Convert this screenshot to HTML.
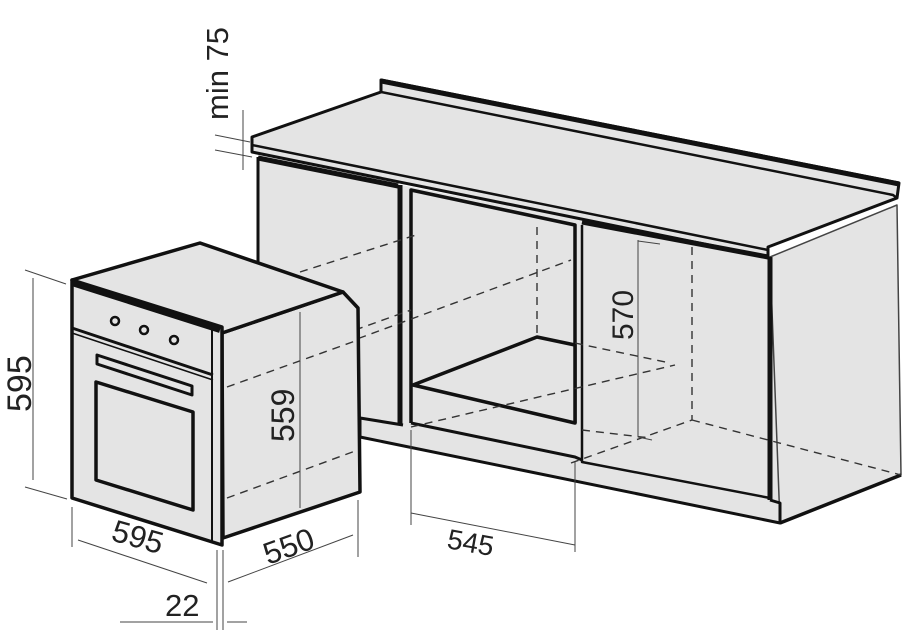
<!DOCTYPE html>
<html><head><meta charset="utf-8"><style>
html,body{margin:0;padding:0;background:#fff}
svg{display:block}
text{font-family:"Liberation Sans",sans-serif;fill:#222;font-weight:300}
</style></head><body>
<svg width="904" height="630" viewBox="0 0 904 630" xmlns="http://www.w3.org/2000/svg">
<g fill="#e4e4e4" stroke="#111" stroke-linejoin="round">
<polygon points="258,157 770,257 780,503 780,523 360,437 360,418 258,400" stroke="none"/>
<polygon points="770,257 897,205 901,475 780,523" stroke-width="1.5" stroke="#444"/>
<line x1="780" y1="523" x2="901" y2="475" stroke-width="3.5"/>
<polygon points="252,137 381,92 381,80 899,183 897,198 768,247 768,257 252,152" stroke-width="3"/>
<polyline points="381,92 893,195 897,198" fill="none" stroke-width="2.5"/>
<line x1="381" y1="81" x2="899" y2="184" stroke-width="5"/>
<line x1="252" y1="145" x2="768" y2="250" stroke-width="2.5"/>
<line x1="258" y1="157" x2="258" y2="300" stroke-width="3"/>
<line x1="258" y1="158" x2="398" y2="186" stroke-width="5"/>
<line x1="400" y1="185" x2="400" y2="425" stroke-width="5"/>
<polyline points="411,423 411,190 575,225 575,423" fill="none" stroke-width="3.5"/>
<polygon points="413,385 537,337 575,345 575,423" stroke-width="3.5"/>
<line x1="582" y1="222" x2="768" y2="257" stroke-width="5"/>
<polyline points="582,225 582,462 770,498" fill="none" stroke-width="2.5"/>
<line x1="770" y1="257" x2="770" y2="500" stroke-width="5"/>
<polyline points="360,418 403,425" fill="none" stroke-width="3"/>
<polyline points="411,423 575,457 582,460" fill="none" stroke-width="3"/>
<polyline points="770,500 780,503 780,523 360,437 360,418" fill="none" stroke-width="3"/>
</g>
<g stroke="#333" stroke-width="1.4" stroke-dasharray="8,6" fill="none">
<line x1="537" y1="227" x2="537" y2="337"/>
<line x1="692" y1="247" x2="692" y2="420"/>
<line x1="300" y1="272" x2="416" y2="235"/>
<line x1="227" y1="387" x2="571" y2="260"/>
<line x1="355" y1="330" x2="411" y2="310"/>
<line x1="227" y1="498" x2="360" y2="445"/>
<line x1="411" y1="427" x2="675" y2="365"/>
<line x1="575" y1="343" x2="670" y2="363"/>
<line x1="582" y1="430" x2="650" y2="438"/>
<line x1="571" y1="463" x2="692" y2="420"/>
<line x1="692" y1="420" x2="901" y2="475"/>
</g>
<g stroke="#444" stroke-width="1" fill="none">
<line x1="638" y1="240" x2="638" y2="437"/>
<line x1="638" y1="241" x2="660" y2="244"/>
<line x1="638" y1="437" x2="652" y2="440"/>
<line x1="411" y1="430" x2="411" y2="525"/>
<line x1="575" y1="462" x2="575" y2="552"/>
<line x1="411" y1="513" x2="575" y2="545"/>
</g>
<text font-size="30" transform="translate(633,340) rotate(-90)">570</text>
<text font-size="28" transform="translate(446,548) rotate(10)">545</text>
<g fill="#e4e4e4" stroke="#111" stroke-linejoin="round">
<polygon points="222,333 343,292 358,308 360,492 223,538" stroke-width="3.5"/>
<polygon points="72,280 200,243 343,292 222,333" stroke-width="3.5"/>
<polygon points="72,280 222,327 222,545 72,498" stroke-width="3.5"/>
<line x1="72" y1="283" x2="220" y2="330" stroke-width="6"/>
<line x1="212" y1="330" x2="212" y2="543" stroke-width="2"/>
<line x1="72" y1="328" x2="213" y2="375" stroke-width="3"/>
<line x1="72" y1="333" x2="213" y2="380" stroke-width="1.5"/>
<polygon points="97,355 192,386 192,395 97,364" stroke-width="3"/>
<polygon points="96,382 193,412 193,510 96,480" stroke-width="3.5"/>
<circle cx="115" cy="321" r="4" stroke-width="2.5"/>
<circle cx="144" cy="330" r="4" stroke-width="2.5"/>
<circle cx="174" cy="340" r="4" stroke-width="2.5"/>
</g>
<g stroke="#333" stroke-width="1.4" stroke-dasharray="8,6" fill="none">
<line x1="227" y1="387" x2="358" y2="340"/>
<line x1="227" y1="498" x2="358" y2="450"/>
</g>
<g stroke="#444" stroke-width="1" fill="none">
<line x1="300" y1="312" x2="300" y2="508"/>
<line x1="33" y1="278" x2="33" y2="480"/>
<line x1="25" y1="270" x2="66" y2="284"/>
<line x1="25" y1="487" x2="67" y2="499"/>
<line x1="72" y1="507" x2="72" y2="547"/>
<line x1="78" y1="540" x2="207" y2="583"/>
<line x1="358" y1="500" x2="358" y2="557"/>
<line x1="228" y1="582" x2="353" y2="535"/>
<line x1="217" y1="550" x2="217" y2="630"/>
<line x1="223" y1="550" x2="223" y2="630"/>
<line x1="120" y1="622" x2="213" y2="622"/>
<line x1="227" y1="622" x2="247" y2="622"/>
<line x1="243" y1="110" x2="243" y2="170"/>
<line x1="215" y1="135" x2="250" y2="142"/>
<line x1="215" y1="150" x2="252" y2="157"/>
</g>
<text font-size="32" transform="translate(294,442) rotate(-90)">559</text>
<text font-size="34" transform="translate(31,412) rotate(-90)">595</text>
<text font-size="31" transform="translate(110,540) rotate(16)">595</text>
<text font-size="31" transform="translate(268,565) rotate(-20)">550</text>
<text font-size="31" x="165" y="616">22</text>
<text font-size="31" transform="translate(228,120) rotate(-90)">min 75</text>
</svg>
</body></html>
